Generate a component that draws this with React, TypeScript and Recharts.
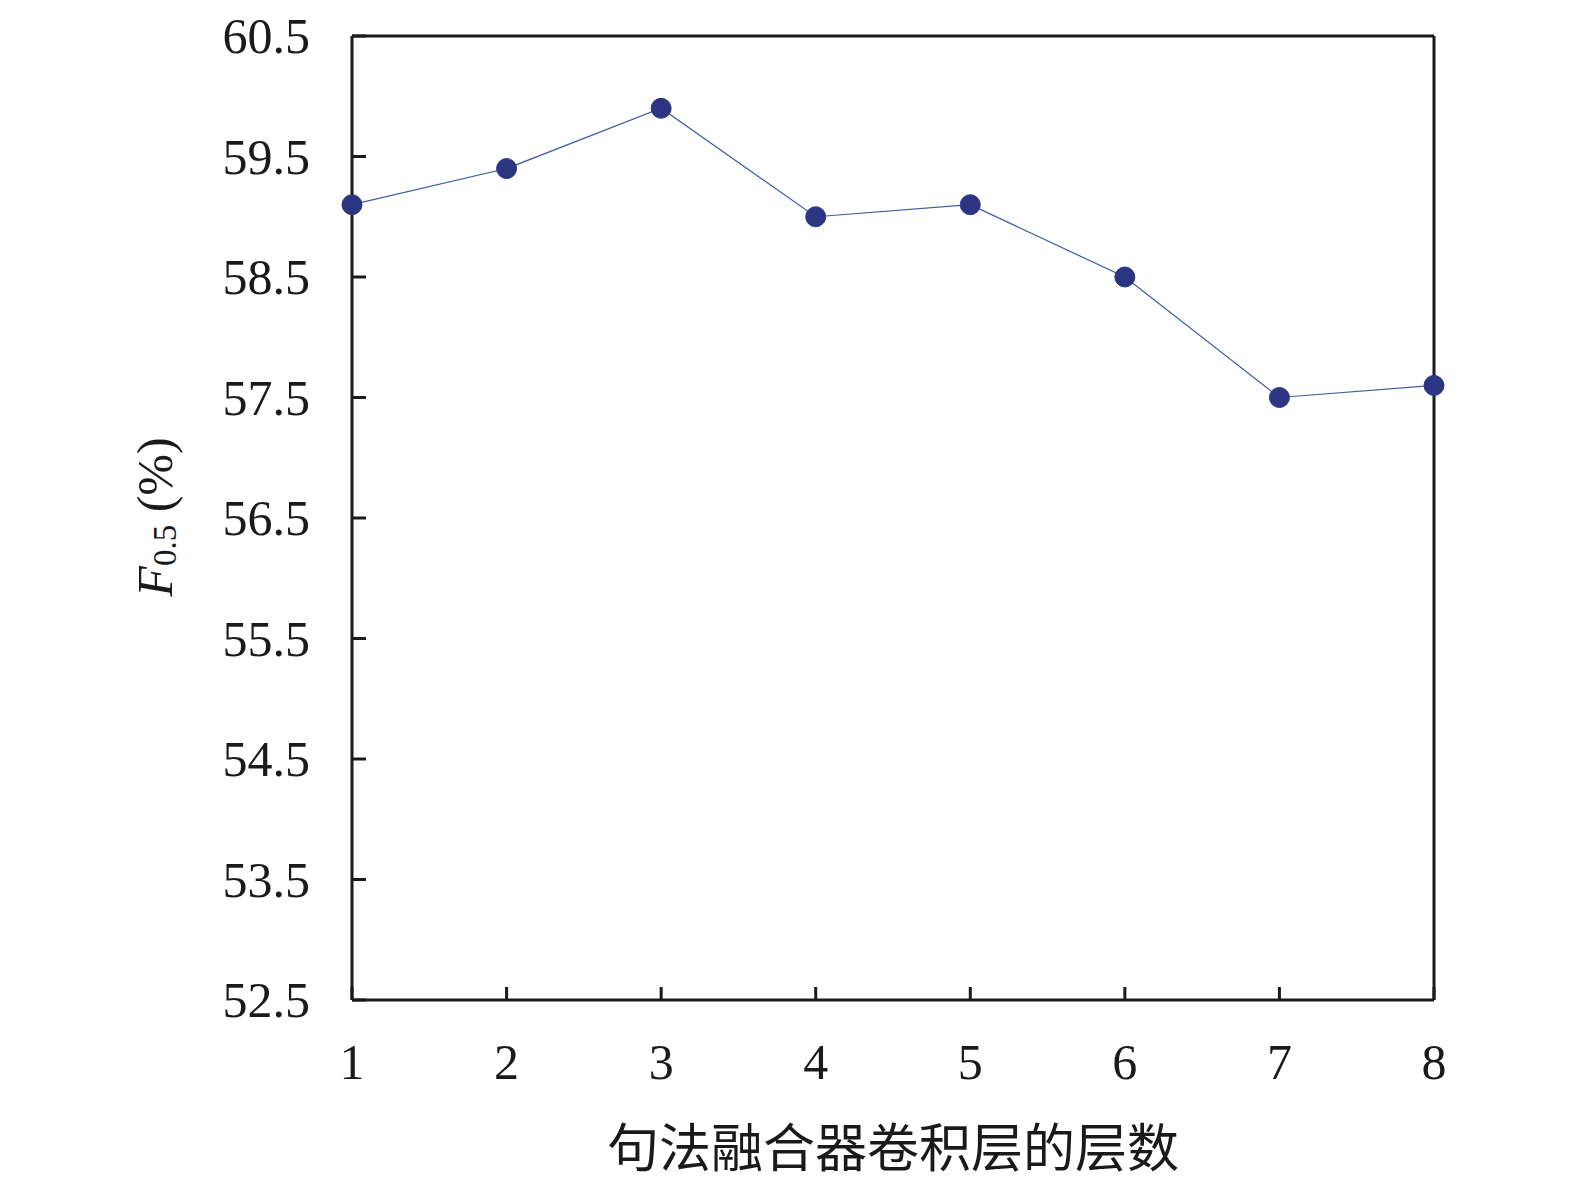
import { LineChart, Line, XAxis, YAxis, ReferenceLine } from 'recharts';

const layers = [1, 2, 3, 4, 5, 6, 7, 8];
const f05 = [59.1, 59.4, 59.9, 59.0, 59.1, 58.5, 57.5, 57.6];
const yTicks = [52.5, 53.5, 54.5, 55.5, 56.5, 57.5, 58.5, 59.5, 60.5];

const data = layers.map((layer, i) => ({ layer, value: f05[i] }));

const serif = '"Liberation Serif", "Times New Roman", serif';

function XTick({ x, y, payload }: any) {
	return (
		<g>
			<line x1={x} y1={y} x2={x} y2={y - 13} stroke="#1a1a1a" strokeWidth={3} />
			<text x={x} y={y + 62} textAnchor="middle" dominantBaseline="central" fontFamily={serif} fontSize={50} fill="#1a1a1a">
				{payload.value}
			</text>
		</g>
	);
}

function YTick({ x, y, payload }: any) {
	return (
		<g>
			<line x1={x} y1={y} x2={x + 14} y2={y} stroke="#1a1a1a" strokeWidth={3} />
			<text x={x - 42} y={y} textAnchor="end" dominantBaseline="central" fontFamily={serif} fontSize={50} fill="#1a1a1a">
				{payload.value.toFixed(1)}
			</text>
		</g>
	);
}

function YLabel() {
	return (
		<text
			x={155}
			y={517}
			transform="rotate(-90 155 517)"
			textAnchor="middle"
			dominantBaseline="central"
			fontFamily={serif}
			fontSize={50}
			fill="#1a1a1a"
		>
			<tspan fontStyle="italic">F</tspan>
			<tspan fontSize={33} dy={10}>0.5</tspan>
			<tspan dy={-10}> (%)</tspan>
		</text>
	);
}

export default function App() {
	return (
		<div style={{ position: 'absolute', left: 0, top: 0, width: 1575, height: 1181, background: '#fff' }}>
			<LineChart width={1575} height={1181} data={data} margin={{ top: 36, right: 141, bottom: 0, left: 0 }}>
				<XAxis
					dataKey="layer"
					type="number"
					domain={[1, 8]}
					ticks={layers}
					tickSize={0}
					tickMargin={0}
					tick={<XTick />}
					axisLine={{ stroke: '#1a1a1a', strokeWidth: 3 }}
					tickLine={false}
					height={181}
					label={{
						value: '句法融合器卷积层的层数',
						position: 'insideBottom',
						offset: 14,
						fontFamily: '"Noto Sans CJK SC", sans-serif',
						fontSize: 52,
						fill: '#1a1a1a',
					}}
				/>
				<YAxis
					type="number"
					domain={[52.5, 60.5]}
					ticks={yTicks}
					tickSize={0}
					tickMargin={0}
					tick={<YTick />}
					axisLine={{ stroke: '#1a1a1a', strokeWidth: 3 }}
					tickLine={false}
					width={352}
					label={<YLabel />}
				/>
				<ReferenceLine y={60.5} stroke="#1a1a1a" strokeWidth={3} />
				<ReferenceLine x={8} stroke="#1a1a1a" strokeWidth={3} />
				<Line
					type="linear"
					dataKey="value"
					stroke="#3f5aa3"
					strokeWidth={1.2}
					dot={{ r: 10, fill: '#2b3582', stroke: '#2b3582', strokeWidth: 1 }}
					isAnimationActive={false}
				/>
			</LineChart>
		</div>
	);
}
